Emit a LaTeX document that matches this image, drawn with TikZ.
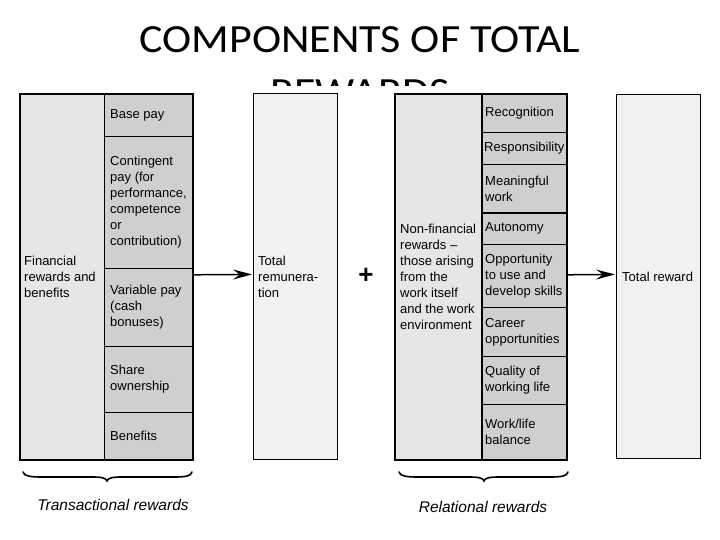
\documentclass[tikz,border=0pt]{standalone}
\usepackage{fontspec}
\usepackage{graphicx}
\setmainfont{Liberation Sans}
\newfontfamily\titlefont{Carlito}
\usetikzlibrary{arrows.meta}
\definecolor{lightc}{HTML}{E6E6E6}
\definecolor{darkc}{HTML}{CFCFCF}
\definecolor{totc}{HTML}{F1F1F1}
\begin{document}
\begin{tikzpicture}[x=1pt,y=-1pt,
  cellbox/.style n args={2}{draw, line width=0.8pt, inner sep=0pt, anchor=north west,
      minimum width=#1, minimum height=#2},
  lcell/.style={fill=lightc},
  dcell/.style={fill=darkc},
  tcell/.style={fill=totc},
  frame/.style n args={2}{draw, line width=1.6pt, inner sep=0pt, anchor=north west,
      minimum width=#1, minimum height=#2},
  txt/.style={inner sep=0pt, anchor=west, align=left, font=\fontsize{13}{16}\selectfont},
  captxt/.style={inner sep=0pt, anchor=base, font=\fontsize{15.5}{18}\selectfont\itshape},
  titletxt/.style={inner sep=0pt, anchor=base, font=\titlefont\fontsize{40}{40}\selectfont},
  arr/.style={line width=1.5pt, -{Stealth[length=19pt,width=10pt,inset=7pt]}},
  bracel/.style={line width=1.6pt, line cap=round}
]
\useasboundingbox (0,0) rectangle (720,540);
% title
\node[titletxt] (title1) at (360,53) {\scalebox{1.1}[1]{COMPONENTS OF TOTAL}};
\node[titletxt] (title2) at (360,106) {\scalebox{1.1}[1]{REWARDS}};
\fill[white] (0,86) rectangle (720,540);

% ---------- financial block ----------
\node[cellbox={85pt}{366pt}, lcell] (finL) at (19,93) {};
\node[cellbox={88pt}{43pt}, dcell] (base) at (104,93) {};
\node[cellbox={88pt}{132pt}, dcell] (cont) at (104,136) {};
\node[cellbox={88pt}{78pt}, dcell] (vari) at (104,268) {};
\node[cellbox={88pt}{66pt}, dcell] (share) at (104,346) {};
\node[cellbox={88pt}{47pt}, dcell] (bene) at (104,412) {};
\node[frame={173pt}{366pt}] (fin) at (19,93) {};

\node[txt] (finL-t) at ([xshift=5pt]finL.west) {Financial\\rewards and\\benefits};
\node[txt] (base-t) at ([xshift=6pt]base.west) {Base pay};
\node[txt] (cont-t) at ([xshift=6pt]cont.west) {Contingent\\pay (for\\performance,\\competence\\or\\contribution)};
\node[txt] (vari-t) at ([xshift=6pt]vari.west) {Variable pay\\(cash\\bonuses)};
\node[txt] (share-t) at ([xshift=6pt]share.west) {Share\\ownership};
\node[txt] (bene-t) at ([xshift=6pt]bene.west) {Benefits};

% total remuneration
\node[cellbox={84pt}{366pt}, tcell] (trem) at (253,93) {};
\node[txt] (trem-t) at ([xshift=5pt]trem.west) {Total\\remunera-\\tion};

% plus
\node[inner sep=0pt, font=\fontsize{26}{26}\selectfont\bfseries] (plus) at (366,276) {+};

% ---------- relational block ----------
\node[cellbox={87pt}{366pt}, lcell] (relL) at (394,93) {};
\node[cellbox={85pt}{39pt}, dcell] (reco) at (481,93) {};
\node[cellbox={85pt}{32pt}, dcell] (resp) at (481,132) {};
\node[cellbox={85pt}{48pt}, dcell] (mean) at (481,164) {};
\node[cellbox={85pt}{32pt}, dcell] (auto) at (481,212) {};
\node[cellbox={85pt}{63pt}, dcell] (oppo) at (481,244) {};
\node[cellbox={85pt}{49pt}, dcell] (care) at (481,307) {};
\node[cellbox={85pt}{48pt}, dcell] (qual) at (481,356) {};
\node[cellbox={85pt}{55pt}, dcell] (work) at (481,404) {};
\draw[line width=1.6pt] (mean.south west) -- (mean.south east);
\draw[line width=1.6pt] (relL.north east) -- (relL.south east);
\node[frame={172pt}{366pt}] (rel) at (394,93) {};

\node[txt] (relL-t) at ([xshift=6pt]relL.west) {Non-financial\\rewards --\\those arising\\from the\\work itself\\and the work\\environment};
\node[txt] (reco-t) at ([xshift=4pt]reco.west) {Recognition};
\node[txt] (resp-t) at ([xshift=3pt]resp.west) {Responsibility};
\node[txt] (mean-t) at ([xshift=4pt]mean.west) {Meaningful\\work};
\node[txt] (auto-t) at ([xshift=4pt]auto.west) {Autonomy};
\node[txt] (oppo-t) at ([xshift=4pt]oppo.west) {Opportunity\\to use and\\develop skills};
\node[txt] (care-t) at ([xshift=4pt]care.west) {Career\\opportunities};
\node[txt] (qual-t) at ([xshift=4pt]qual.west) {Quality of\\working life};
\node[txt] (work-t) at ([xshift=4pt]work.west) {Work/life\\balance};

% total reward
\node[cellbox={84pt}{364pt}, tcell] (trew) at (616,94) {};
\node[txt] (trew-t) at ([xshift=6pt]trew.west) {Total reward};

% arrows
\draw[arr] ([yshift=2pt]fin.east) -- ([yshift=2pt,xshift=-1pt]trem.west);
\draw[arr] ([yshift=2pt]rel.east) -- ([yshift=2pt,xshift=-1pt]trew.west);

% braces
\draw[bracel] (23,472) .. controls (24,476) and (30,477) .. (42,477) -- (92,477)
   .. controls (102,477) and (106,478) .. (107,481)
   .. controls (108,478) and (112,477) .. (122,477) -- (174,477)
   .. controls (186,477) and (191,476) .. (192,472);
\draw[bracel] (399,472) .. controls (400,476) and (406,477) .. (418,477) -- (469,477)
   .. controls (479,477) and (483,478) .. (484,481)
   .. controls (485,478) and (489,477) .. (499,477) -- (550,477)
   .. controls (562,477) and (567,476) .. (568,472);

\node[captxt] (trans) at (113,510) {Transactional rewards};
\node[captxt] (relcap) at (483,512) {Relational rewards};
\end{tikzpicture}
\end{document}
